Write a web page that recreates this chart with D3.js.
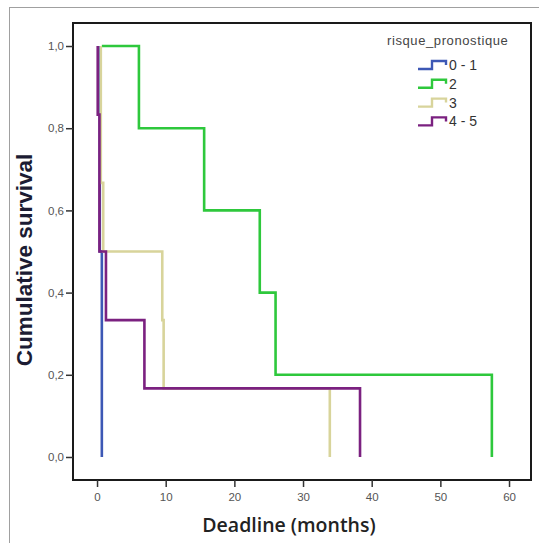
<!DOCTYPE html>
<html>
<head>
<meta charset="utf-8">
<script src="https://cdn.jsdelivr.net/npm/d3@7"></script>
<style>
  body { margin: 0; background: #fff; }
  svg { display: block; font-family: Arial, "Liberation Sans", sans-serif; }
</style>
</head>
<body>
<div id="chart"></div>
<script>
// Kaplan-Meier data (time in months, survival after event)
const groups = ['0 - 1', '2', '3', '4 - 5'];
const colors = ['#3d58b5', '#2ec83c', '#d8d49b', '#7b2180'];

const times01 = [0.4, 0.4, 0.7];
const surv01 = [1.0, 0.5, 0.0];

const times2 = [0.7, 6.1, 15.6, 23.7, 26.0, 57.5];
const surv2 = [1.0, 0.8, 0.6, 0.4, 0.2, 0.0];

const times3 = [0.55, 0.55, 0.9, 9.5, 9.7, 33.9];
const surv3 = [1.0, 0.667, 0.5, 0.333, 0.167, 0.0];

const times45 = [0.1, 0.1, 0.35, 1.3, 6.9, 38.3];
const surv45 = [1.0, 0.833, 0.5, 0.333, 0.167, 0.0];

const xTicks = [0, 10, 20, 30, 40, 50, 60];
const yTicks = [0, 0.2, 0.4, 0.6, 0.8, 1.0];

const series = [
  {name: groups[0], t: times01, s: surv01},
  {name: groups[1], t: times2, s: surv2},
  {name: groups[2], t: times3, s: surv3},
  {name: groups[3], t: times45, s: surv45}
];

const width = 539, height = 543;
const frame = {left: 73, top: 23, right: 531, bottom: 480};

const svg = d3.select('#chart').append('svg')
  .attr('width', width)
  .attr('height', height);

// outer grey border
svg.append('rect')
  .attr('x', 9.5).attr('y', 7.5)
  .attr('width', 540).attr('height', 540)
  .attr('fill', 'none')
  .attr('stroke', '#a0a0a0')
  .attr('stroke-width', 1);

const x = d3.scaleLinear()
  .domain([-3.5, 63.2])
  .range([frame.left, frame.right]);

const y = d3.scaleLinear()
  .domain([-0.056, 1.056])
  .range([frame.bottom, frame.top]);

// curves
const line = d3.line()
  .x(d => x(d[0]))
  .y(d => y(d[1]))
  .curve(d3.curveStepAfter);

svg.append('g')
  .selectAll('path')
  .data(series)
  .enter()
  .append('path')
  .attr('d', d => line(d.t.map((t, i) => [t, d.s[i]])))
  .attr('fill', 'none')
  .attr('stroke', (d, i) => colors[i])
  .attr('stroke-width', 2.6);

// frame
svg.append('rect')
  .attr('x', frame.left).attr('y', frame.top)
  .attr('width', frame.right - frame.left)
  .attr('height', frame.bottom - frame.top)
  .attr('fill', 'none')
  .attr('stroke', '#1a1a1a')
  .attr('stroke-width', 2);

// axes
const xAxis = svg.append('g')
  .attr('transform', `translate(0,${frame.bottom})`)
  .call(d3.axisBottom(x).tickValues(xTicks).tickSize(7).tickPadding(6).tickFormat(d3.format('d')));
xAxis.select('.domain').remove();
xAxis.selectAll('line').attr('stroke', '#333').attr('stroke-width', 1.5);
xAxis.selectAll('text').attr('fill', '#555').style('font-size', '11.5px');

const yAxis = svg.append('g')
  .attr('transform', `translate(${frame.left},0)`)
  .call(d3.axisLeft(y).tickValues(yTicks).tickSize(7).tickPadding(2)
    .tickFormat(d => d3.format('.1f')(d).replace('.', ',')));
yAxis.select('.domain').remove();
yAxis.selectAll('line').attr('stroke', '#333').attr('stroke-width', 1.5);
yAxis.selectAll('text').attr('fill', '#555').style('font-size', '11.5px');

// axis titles
svg.append('text')
  .attr('x', 289)
  .attr('y', 532)
  .attr('text-anchor', 'middle')
  .attr('fill', '#222')
  .style('font-family', '"Open Sans", sans-serif')
  .style('font-size', '19.5px')
  .style('font-weight', '600')
  .text('Deadline (months)');

svg.append('text')
  .attr('transform', 'translate(32,260) rotate(-90)')
  .attr('text-anchor', 'middle')
  .attr('fill', '#1c1c33')
  .style('font-size', '22.5px')
  .style('font-weight', 'bold')
  .text('Cumulative survival');

// legend
svg.append('text')
  .attr('x', 387)
  .attr('y', 45)
  .attr('fill', '#444')
  .style('font-size', '13px')
  .style('letter-spacing', '0.6px')
  .text('risque_pronostique');

const legend = svg.append('g')
  .selectAll('g')
  .data(series)
  .enter()
  .append('g')
  .attr('transform', (d, i) => `translate(418,${65 + i * 18.8})`);

legend.append('path')
  .attr('d', 'M0,4H14V-4H28V0')
  .attr('fill', 'none')
  .attr('stroke', (d, i) => colors[i])
  .attr('stroke-width', 2.4);

legend.append('text')
  .attr('x', 31)
  .attr('y', 5)
  .attr('fill', '#333')
  .style('font-size', '14px')
  .text(d => d.name);
</script>
</body>
</html>
